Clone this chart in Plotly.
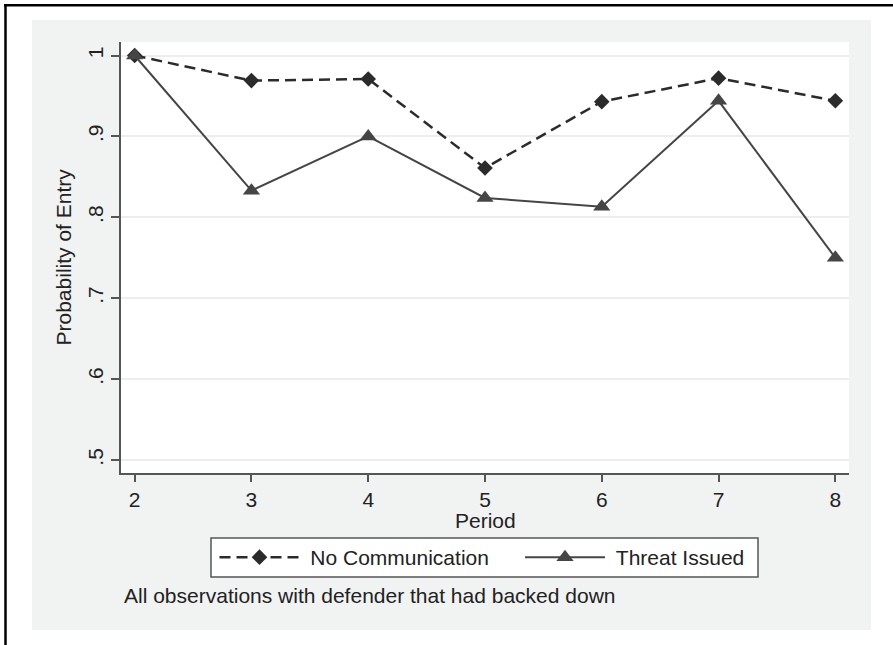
import plotly.graph_objects as go

# ---- data ----
periods = [2, 3, 4, 5, 6, 7, 8]
no_communication = [1.0, 0.969, 0.971, 0.861, 0.943, 0.972, 0.944]
threat_issued = [1.0, 0.833, 0.900, 0.824, 0.813, 0.944, 0.750]
y_tickvals = [0.5, 0.6, 0.7, 0.8, 0.9, 1.0]
y_ticktext = [".5", ".6", ".7", ".8", ".9", "1"]
series_names = ["No Communication", "Threat Issued"]
x_title = "Period"
y_title = "Probability of Entry"
caption = "All observations with defender that had backed down"

# ---- layout geometry (pixels) ----
W, H = 893, 645
L, R, T, B = 121, 849, 42, 473


def px(x):
    return (x - L) / (R - L)


def py(y):
    return (B - y) / (B - T)


FONT = "Liberation Sans, Arial, Helvetica, sans-serif"
TXT = "#222222"
AX = "#555555"

fig = go.Figure()
fig.add_trace(go.Scatter(
    x=periods, y=no_communication, name="\u00a0" + series_names[0],
    mode="lines+markers", legend="legend",
    line=dict(color="#2b2b2b", width=2.5, dash="11px,6px"),
    marker=dict(symbol="diamond", size=12, color="#2b2b2b"),
))
fig.add_trace(go.Scatter(
    x=periods, y=threat_issued, name="\u00a0" + series_names[1],
    mode="lines+markers", legend="legend2",
    line=dict(color="#454545", width=2),
    marker=dict(symbol="triangle-up", size=15, color="#454545"),
))

shapes = [
    dict(type="rect", xref="paper", yref="paper", x0=px(32), x1=px(871),
         y0=py(630), y1=py(20), fillcolor="#F1F3F3", line=dict(width=0), layer="below"),
    dict(type="rect", xref="paper", yref="paper", x0=0, x1=1, y0=0, y1=1,
         fillcolor="white", line=dict(width=0), layer="below"),
    # legend frame
    dict(type="rect", xref="paper", yref="paper", x0=px(211), x1=px(758),
         y0=py(577), y1=py(538), fillcolor="white",
         line=dict(color=AX, width=1.5), layer="below"),
    # outer frame lines
    dict(type="line", xref="paper", yref="paper", x0=px(5.5), x1=px(5.5),
         y0=py(4), y1=py(H + 5), line=dict(color="black", width=2.5)),
    dict(type="line", xref="paper", yref="paper", x0=px(4), x1=px(W + 5),
         y0=py(5.3), y1=py(5.3), line=dict(color="black", width=2.5)),
]

annotations = [
    dict(text=x_title, xref="paper", yref="paper", x=0.5, y=py(520),
         xanchor="center", yanchor="middle", showarrow=False,
         font=dict(size=21, color=TXT, family=FONT)),
    dict(text=y_title, xref="paper", yref="paper", x=px(63), y=0.5,
         xanchor="center", yanchor="middle", showarrow=False, textangle=-90,
         font=dict(size=21, color=TXT, family=FONT)),
    dict(text=caption, xref="paper", yref="paper", x=px(122), y=py(595),
         xanchor="left", yanchor="middle", showarrow=False,
         font=dict(size=21, color=TXT, family=FONT)),
]

legend_common = dict(orientation="h", xanchor="left", yanchor="top",
                     bgcolor="rgba(0,0,0,0)", borderwidth=0,
                     font=dict(size=21, color=TXT, family=FONT), itemwidth=80)

fig.update_layout(
    width=W, height=H,
    margin=dict(l=L, r=W - R, t=T, b=H - B, autoexpand=False),
    paper_bgcolor="white", plot_bgcolor="white",
    font=dict(family=FONT, size=21, color=TXT),
    shapes=shapes, annotations=annotations,
    showlegend=True,
    legend=dict(x=px(214.5), y=py(537), **legend_common),
    legend2=dict(x=px(520), y=py(537), **legend_common),
    xaxis=dict(range=[1.883, 8.117], tickvals=periods, ticks="outside", ticklen=7,
               tickwidth=1.5, tickcolor=AX, showline=True, linecolor=AX, linewidth=1.5,
               showgrid=False, zeroline=False, tickfont=dict(size=21, color=TXT)),
    yaxis=dict(range=[0.484, 1.0167], tickvals=y_tickvals, ticktext=y_ticktext,
               tickangle=-90, ticks="outside", ticklen=8, tickwidth=1.5, tickcolor=AX,
               showline=True, linecolor=AX, linewidth=1.5, showgrid=True,
               gridcolor="#ECEEEE", gridwidth=1.5, zeroline=False,
               tickfont=dict(size=21, color=TXT)),
)

fig.write_html("out.html", config={"displayModeBar": False},
               post_script="document.body.style.margin='0px';")
